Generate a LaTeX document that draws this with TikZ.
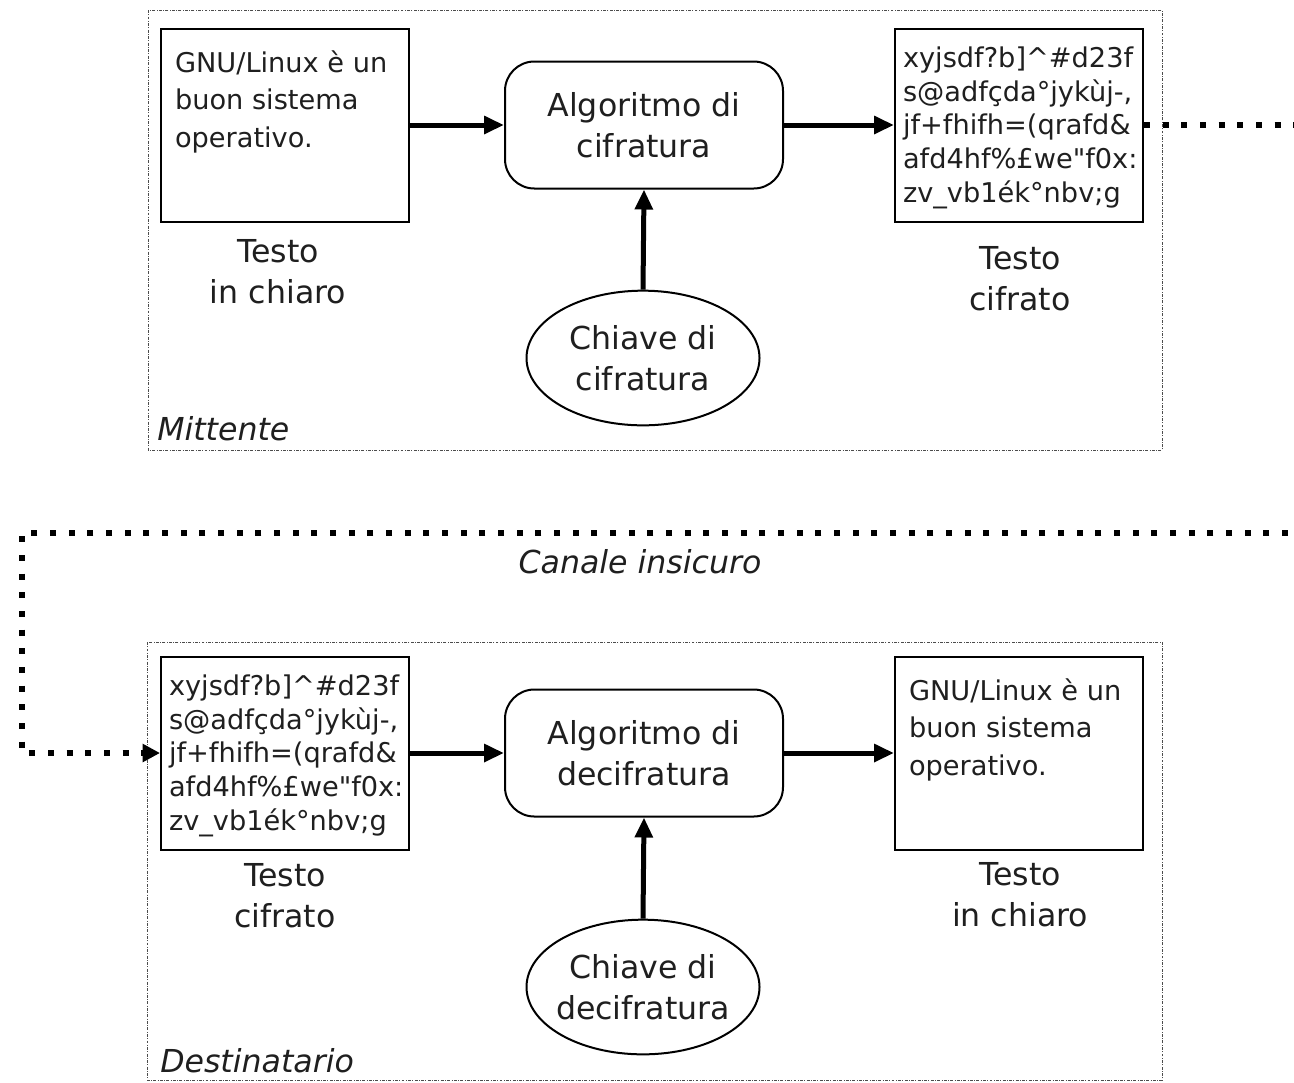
\documentclass[tikz,border=0pt]{standalone}
\usepackage{fontspec}
\setmainfont{DejaVu Sans}
% plain family: no TeX mapping, so " stays a straight quote
\newfontfamily\boxfont{DejaVu Sans}
\usetikzlibrary{arrows.meta,shapes.geometric}

\definecolor{ink}{gray}{0.12}
\definecolor{framegray}{gray}{0.3}

\newcommand\bigtext{\fontsize{23.7}{31}\selectfont}
\newcommand\tagtext{\fontsize{23.7}{31}\selectfont\itshape}
% #1 left padding, #2 baselineskip, #3 first baseline depth, #4 lines
\newcommand\boxtext[4]{\parbox[c][144.75pt][t]{186pt}{\boxfont\fontsize{20.4}{#2}\selectfont\raggedright\leftskip=#1\rule{0pt}{#3}#4}}
% centred line that does not widen its node
\newcommand\keyline[1]{\makebox[0pt][c]{#1}}

\begin{document}
\begin{tikzpicture}[x=0.75pt,y=-0.75pt,
  txtbox/.style={draw=black, line width=1.5pt, inner sep=0pt, rectangle, text=ink},
  algbox/.style={draw=black, line width=1.5pt, rounded corners=22pt, minimum width=208.5pt,
    minimum height=95.25pt, inner sep=0pt, align=center, font=\bigtext, text=ink},
  keyell/.style={draw=black, ellipse, line width=1.5pt, minimum width=174.75pt,
    minimum height=101pt, inner sep=0pt, align=center, font=\bigtext, text=ink},
  caption/.style={align=center, font=\bigtext, text=ink},
  tag/.style={font=\tagtext, text=ink, inner sep=0pt},
  frame/.style={draw=framegray, line width=0.75pt, dash pattern=on 2.2pt off 1pt on 0.7pt off 1pt},
  flow/.style={draw=black, line width=3.75pt, -{Triangle[length=15pt,width=13pt]}},
  channel/.style={draw=black, line width=4.5pt, dash pattern=on 4.5pt off 9.5pt,
    -{Triangle[length=13pt,width=13pt]}}
]
\useasboundingbox (0,0) rectangle (1294,1082);
\fill[white] (0,0) rectangle (1294,1082);

% sender and receiver frames
\draw[frame] (148,10) rectangle (1162,450);
\draw[frame] (147,642) rectangle (1162,1080);

% ---- sender ----
\node[txtbox] (plain1) at (285,125) {\boxtext{10.5pt}{28pt}{33pt}{%
  \mbox{GNU/Linux è un}\\\mbox{buon sistema}\\\mbox{operativo.}}};
\node[algbox] (alg1) at (644,125) {Algoritmo di\\cifratura};
\node[txtbox] (cipher1) at (1019,125) {\boxtext{6pt}{25.3pt}{29.25pt}{%
  \mbox{xyjsdf?b]\textasciicircum\#d23f}\\\mbox{s@adfçda°jykùj-,}\\
  \mbox{jf+fhifh=(qrafd\&}\\\mbox{afd4hf\%£we"f0x:}\\\mbox{zv\_vb1ék°nbv;g}}};
\node[keyell] (key1) at (643,358) {\keyline{Chiave di}\\\keyline{cifratura}};
\node[caption] (cap1) at (278,272) {Testo\\in chiaro};
\node[caption] (cap2) at (1020,279) {Testo\\cifrato};
\node[tag, anchor=base west] (sender) at (157,440) {Mittente};

\draw[flow] (plain1.east) -- (alg1.west);
\draw[flow] (alg1.east) -- (cipher1.west);
\draw[flow] (key1.north) -- (alg1.south);

% ---- receiver ----
\node[txtbox] (cipher2) at (285,753) {\boxtext{6pt}{25.3pt}{29.25pt}{%
  \mbox{xyjsdf?b]\textasciicircum\#d23f}\\\mbox{s@adfçda°jykùj-,}\\
  \mbox{jf+fhifh=(qrafd\&}\\\mbox{afd4hf\%£we"f0x:}\\\mbox{zv\_vb1ék°nbv;g}}};
\node[algbox] (alg2) at (644,753) {Algoritmo di\\decifratura};
\node[txtbox] (plain2) at (1019,753) {\boxtext{10.5pt}{28pt}{33pt}{%
  \mbox{GNU/Linux è un}\\\mbox{buon sistema}\\\mbox{operativo.}}};
\node[keyell] (key2) at (643,987) {\keyline{Chiave di}\\\keyline{decifratura}};
\node[caption] (cap3) at (285,896) {Testo\\cifrato};
\node[caption] (cap4) at (1020,895) {Testo\\in chiaro};
\node[tag, anchor=base west] (receiver) at (160,1072) {Destinatario};

\draw[flow] (cipher2.east) -- (alg2.west);
\draw[flow] (alg2.east) -- (plain2.west);
\draw[flow] (key2.north) -- (alg2.south);

% ---- insecure channel ----
\coordinate (c1) at (1320,125);
\coordinate (c2) at (1320,533);
\coordinate (c3) at (22,533);
\coordinate (c4) at (22,753);
\draw[channel] (cipher1.east) -- (c1) -- (c2) -- (c3) -- (c4) -- (cipher2.west);
\node[tag] (chan) at (640,562) {Canale insicuro};
\end{tikzpicture}
\end{document}
